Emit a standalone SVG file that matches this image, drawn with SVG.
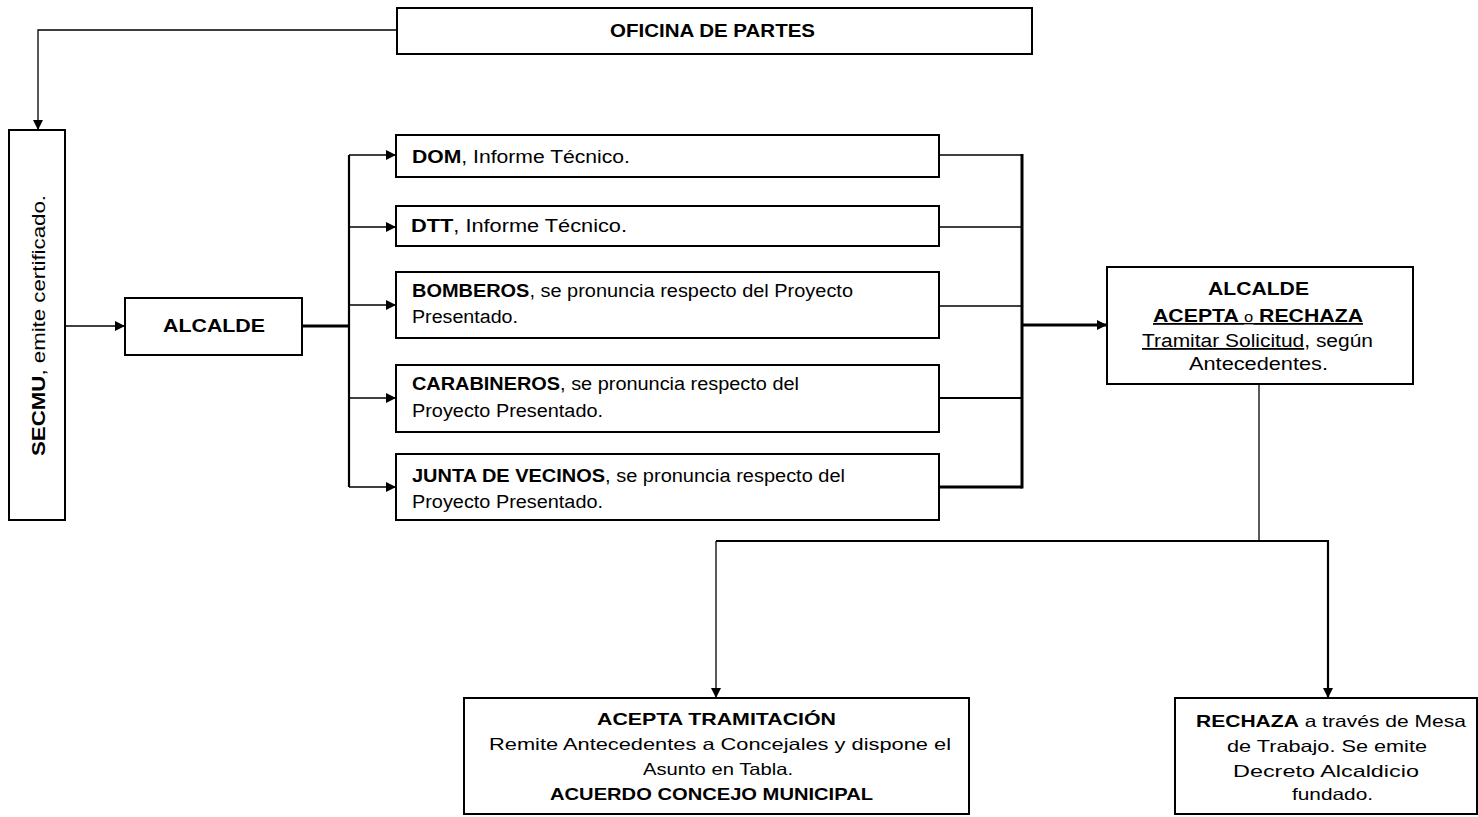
<svg xmlns="http://www.w3.org/2000/svg" width="1478" height="817" viewBox="0 0 1478 817">
<defs>
<marker id="arr" viewBox="0 0 10 10" refX="10" refY="5" markerWidth="12" markerHeight="10" markerUnits="userSpaceOnUse" orient="auto">
<path d="M0,0 L10,5 L0,10 z" fill="#000"/>
</marker>
<style>
.box{fill:#fff;stroke:#000;stroke-width:2}
.t{font-family:"Liberation Sans",Arial,sans-serif;fill:#000;font-size:18px}
.s{font-size:16.5px}
.b{font-weight:bold}
.m{text-anchor:middle}
.c{fill:none;stroke:#000;stroke-width:1.3}
.c2{fill:none;stroke:#000;stroke-width:2.2}
.c3{fill:none;stroke:#000;stroke-width:3}
.u{text-decoration:underline}
</style>
</defs>
<rect width="1478" height="817" fill="#fff"/>
<g id="connectors">
<path class="c" d="M397,30 H38 V130" marker-end="url(#arr)"/>
<path class="c" d="M65,326 H125" marker-end="url(#arr)"/>
<path class="c3" d="M302,326 H349"/>
<path class="c2" d="M349,155 V487"/>
<path class="c" d="M349,155 H396" marker-end="url(#arr)"/>
<path class="c" d="M349,227 H396" marker-end="url(#arr)"/>
<path class="c" d="M349,305 H396" marker-end="url(#arr)"/>
<path class="c" d="M349,398 H396" marker-end="url(#arr)"/>
<path class="c" d="M349,487 H396" marker-end="url(#arr)"/>
<path class="c" d="M939,155 H1022"/>
<path class="c" d="M939,227 H1022"/>
<path class="c" d="M939,306 H1022"/>
<path class="c2" d="M939,398 H1022"/>
<path class="c3" d="M939,487 H1022"/>
<path class="c3" d="M1022,154 V488.5"/>
<path class="c3" d="M1022,325 H1107" marker-end="url(#arr)"/>
<path class="c" d="M1259,384 V541"/>
<path class="c2" d="M716,541 H1329"/>
<path class="c" d="M716,541 V698" marker-end="url(#arr)"/>
<path class="c2" d="M1328,541 V698" marker-end="url(#arr)"/>
</g>
<g id="oficina">
<rect class="box" x="397" y="8" width="635" height="46"/>
<text class="t b" x="610" y="37" font-size="19" textLength="205" lengthAdjust="spacingAndGlyphs">OFICINA DE PARTES</text>
</g>
<g id="secmu">
<rect class="box" x="9" y="130" width="56" height="390"/>
<text class="t" transform="translate(45,456) rotate(-90)" x="0" y="0" textLength="261" lengthAdjust="spacingAndGlyphs"><tspan class="b">SECMU</tspan>, emite certificado.</text>
</g>
<g id="alcalde">
<rect class="box" x="125" y="298" width="177" height="57"/>
<text class="t b" x="163" y="332" font-size="19" textLength="102" lengthAdjust="spacingAndGlyphs">ALCALDE</text>
</g>
<g id="dom">
<rect class="box" x="396" y="135" width="543" height="42"/>
<text class="t" x="412" y="163" textLength="218" lengthAdjust="spacingAndGlyphs"><tspan class="b">DOM</tspan>, Informe Técnico.</text>
</g>
<g id="dtt">
<rect class="box" x="396" y="206" width="543" height="40"/>
<text class="t" x="411" y="232" textLength="216" lengthAdjust="spacingAndGlyphs"><tspan class="b">DTT</tspan>, Informe Técnico.</text>
</g>
<g id="bomberos">
<rect class="box" x="396" y="272" width="543" height="66"/>
<text class="t" x="412" y="297" textLength="441" lengthAdjust="spacingAndGlyphs"><tspan class="b">BOMBEROS</tspan>, se pronuncia respecto del Proyecto</text>
<text class="t" x="412" y="323" textLength="106" lengthAdjust="spacingAndGlyphs">Presentado.</text>
</g>
<g id="carabineros">
<rect class="box" x="396" y="365" width="543" height="67"/>
<text class="t" x="412" y="390" textLength="387" lengthAdjust="spacingAndGlyphs"><tspan class="b">CARABINEROS</tspan>, se pronuncia respecto del</text>
<text class="t" x="412" y="417" textLength="191" lengthAdjust="spacingAndGlyphs">Proyecto Presentado.</text>
</g>
<g id="junta">
<rect class="box" x="396" y="454" width="543" height="66"/>
<text class="t" x="412" y="482" textLength="433" lengthAdjust="spacingAndGlyphs"><tspan class="b">JUNTA DE VECINOS</tspan>, se pronuncia respecto del</text>
<text class="t" x="412" y="508" textLength="191" lengthAdjust="spacingAndGlyphs">Proyecto Presentado.</text>
</g>
<g id="alcalde-decision">
<rect class="box" x="1107" y="267" width="306" height="117"/>
<text class="t b" x="1208" y="295" textLength="101" lengthAdjust="spacingAndGlyphs">ALCALDE</text>
<text class="t b u" x="1153" y="322" textLength="210" lengthAdjust="spacingAndGlyphs">ACEPTA <tspan font-weight="normal" font-size="14">o</tspan> RECHAZA</text>
<text class="t" x="1142" y="347" textLength="231" lengthAdjust="spacingAndGlyphs"><tspan class="u">Tramitar Solicitud</tspan>, según</text>
<text class="t" x="1189" y="370" textLength="139" lengthAdjust="spacingAndGlyphs">Antecedentes.</text>
</g>
<g id="acepta">
<rect class="box" x="464" y="698" width="505" height="116"/>
<text class="t s b" x="597" y="725" font-size="17.5" textLength="239" lengthAdjust="spacingAndGlyphs">ACEPTA TRAMITACIÓN</text>
<text class="t s" x="489" y="750" textLength="462" lengthAdjust="spacingAndGlyphs">Remite Antecedentes  a Concejales y dispone el</text>
<text class="t s" x="643" y="775" textLength="150" lengthAdjust="spacingAndGlyphs">Asunto en Tabla.</text>
<text class="t s b" x="550" y="800" font-size="15" textLength="323" lengthAdjust="spacingAndGlyphs">ACUERDO CONCEJO MUNICIPAL</text>
</g>
<g id="rechaza">
<rect class="box" x="1175" y="698" width="302" height="116"/>
<text class="t s" x="1196" y="727" textLength="270" lengthAdjust="spacingAndGlyphs"><tspan class="b">RECHAZA</tspan> a través de Mesa</text>
<text class="t s" x="1227" y="752" textLength="200" lengthAdjust="spacingAndGlyphs">de Trabajo. Se emite</text>
<text class="t s" x="1233" y="777" textLength="186" lengthAdjust="spacingAndGlyphs">Decreto Alcaldicio</text>
<text class="t s" x="1292" y="800" textLength="81" lengthAdjust="spacingAndGlyphs">fundado.</text>
</g>
</svg>
